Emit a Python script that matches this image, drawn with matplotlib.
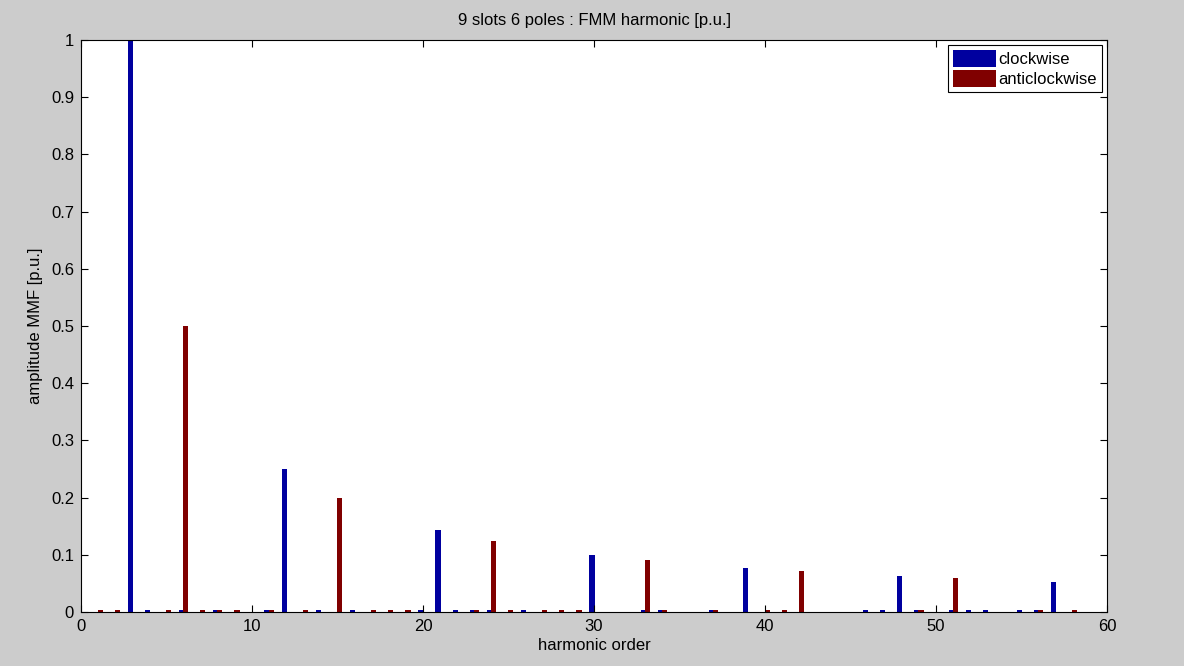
import numpy as np
import matplotlib
matplotlib.use('Agg')
from matplotlib import pyplot as plt

plt.rcParams['font.family'] = ['Liberation Sans', 'DejaVu Sans']

orders = np.arange(1, 60)

cw_main = {3: 1.0, 12: 0.25, 21: 0.143, 30: 0.1, 39: 0.077, 48: 0.0625, 57: 0.053}
acw_main = {6: 0.5, 15: 0.2, 24: 0.125, 33: 0.091, 42: 0.071, 51: 0.059}
cw_small = [4, 6, 8, 11, 14, 16, 20, 22, 23, 24, 26, 33, 34, 37, 46, 47, 49, 51, 52, 53, 55, 56]
acw_small = [1, 2, 5, 7, 8, 9, 11, 13, 17, 18, 19, 23, 25, 27, 28, 29, 34, 37, 40, 41, 49, 56, 58]

clockwise = np.array([cw_main.get(h, 0.0035 if h in cw_small else 0.0) for h in orders])
anticlockwise = np.array([acw_main.get(h, 0.0035 if h in acw_small else 0.0) for h in orders])

fig = plt.figure(figsize=(11.84, 6.66), dpi=100, facecolor='#cccccc')
ax = fig.add_axes([0.0684, 0.081, 0.8666, 0.859])
ax.bar(orders - 0.12, clockwise, width=0.3, color='#00009f', label='clockwise')
ax.bar(orders + 0.12, anticlockwise, width=0.3, color='#800000', label='anticlockwise')

ax.set_xlim(0, 60)
ax.set_ylim(0, 1)
ax.set_xticks(np.arange(0, 61, 10))
ax.set_yticks(np.arange(0, 1.01, 0.1))
ax.set_yticklabels(['0', '0.1', '0.2', '0.3', '0.4', '0.5', '0.6', '0.7', '0.8', '0.9', '1'])
ax.tick_params(direction='in', top=True, right=True, length=5, labelsize=12, pad=5)
for s in ax.spines.values():
    s.set_linewidth(0.8)

ax.set_title('9 slots 6 poles : FMM harmonic [p.u.]', fontsize=12, pad=11)
ax.set_xlabel('harmonic order', fontsize=12, labelpad=3)
ax.set_ylabel('amplitude MMF [p.u.]', fontsize=12, labelpad=6)

leg = ax.legend(loc='upper right', fancybox=False, edgecolor='black', fontsize=12,
                handlelength=2.6, handleheight=1.2, handletextpad=0.15, borderpad=0.3,
                labelspacing=0.15, framealpha=1, borderaxespad=0.3)
leg.get_frame().set_linewidth(0.8)

fig.savefig('out.png', dpi=100, facecolor=fig.get_facecolor())
